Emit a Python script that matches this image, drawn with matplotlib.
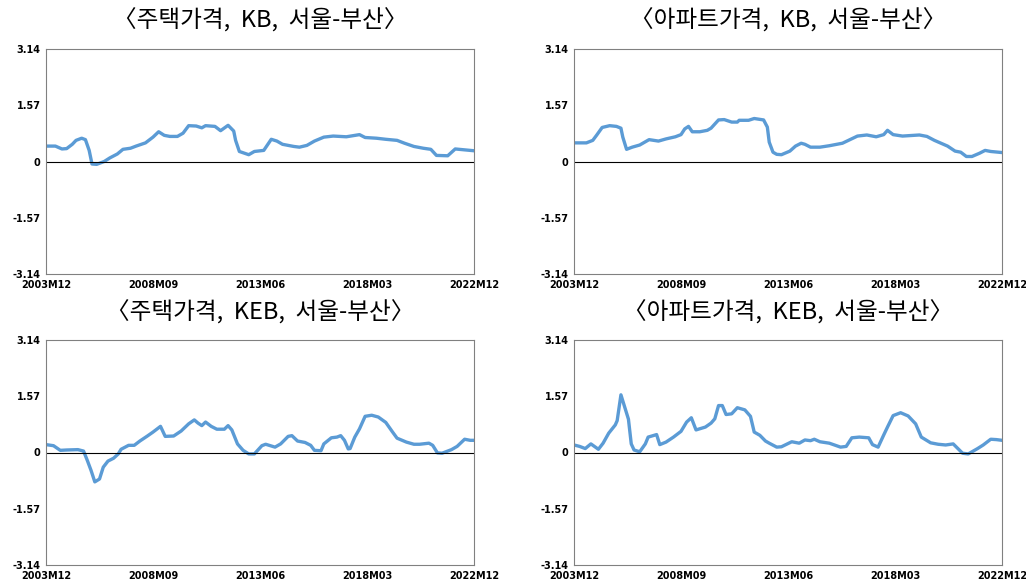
import matplotlib
matplotlib.use("Agg")
import matplotlib.pyplot as plt

plt.rcParams['font.family'] = ['Noto Sans CJK KR', 'DejaVu Sans']

# months since 2003M12 (0 .. 228 = 2022M12)
tick_pos = [0, 57, 114, 171, 228]
tick_labels = ["2003M12", "2008M09", "2013M06", "2018M03", "2022M12"]
ytick_pos = [-3.14, -1.57, 0, 1.57, 3.14]
ytick_labels = ["-3.14", "-1.57", "0", "1.57", "3.14"]

titles = ["〈주택가격,  KB,  서울-부산〉", "〈아파트가격,  KB,  서울-부산〉",
          "〈주택가격,  KEB,  서울-부산〉", "〈아파트가격,  KEB,  서울-부산〉"]

kb_house_m = [0, 5, 8.5, 11, 14, 16, 19, 21, 23, 24.5, 27, 31, 34, 38, 41, 45, 48, 53, 57, 60,
              63, 66, 70, 73, 76, 80, 83, 85, 90, 93, 97, 100, 101, 103, 108, 111, 116, 120, 123, 126,
              132, 135, 139, 143, 148, 153, 160, 167, 170, 176, 181, 187, 191, 196, 201, 205, 208, 214,
              218, 222, 228]
kb_house_v = [0.43, 0.43, 0.35, 0.36, 0.48, 0.59, 0.65, 0.61, 0.31, -0.07, -0.08, 0.0, 0.10, 0.21,
              0.34, 0.37, 0.43, 0.52, 0.68, 0.83, 0.73, 0.70, 0.70, 0.79, 1.00, 0.99, 0.94, 1.00, 0.98,
              0.86, 1.01, 0.85, 0.59, 0.28, 0.19, 0.28, 0.31, 0.62, 0.57, 0.48, 0.42, 0.40, 0.45, 0.57,
              0.68, 0.71, 0.69, 0.75, 0.67, 0.65, 0.62, 0.59, 0.51, 0.42, 0.37, 0.34, 0.17, 0.16, 0.35,
              0.33, 0.30]

kb_apt_m = [0, 6.6, 10, 12, 15, 19, 22.6, 25, 26, 28, 31, 35, 40, 45, 49, 54, 57, 59, 61, 63, 67,
            71, 73, 77, 80, 84, 87, 88, 93, 96, 101, 103, 104, 106, 108, 110.5, 115, 118, 121, 123,
            126, 131, 136, 143, 147, 151, 156, 161, 165, 167, 170, 175, 181, 184, 188, 192, 199, 203,
            206, 209, 212, 216, 219, 222, 228]
kb_apt_v = [0.52, 0.52, 0.59, 0.73, 0.95, 1.00, 0.98, 0.93, 0.68, 0.34, 0.40, 0.46, 0.61, 0.57,
            0.63, 0.69, 0.75, 0.91, 0.98, 0.83, 0.83, 0.87, 0.93, 1.16, 1.17, 1.10, 1.10, 1.15, 1.15,
            1.20, 1.16, 0.96, 0.54, 0.26, 0.20, 0.19, 0.29, 0.43, 0.51, 0.48, 0.40, 0.40, 0.44, 0.51,
            0.61, 0.71, 0.74, 0.69, 0.75, 0.87, 0.75, 0.71, 0.73, 0.74, 0.70, 0.59, 0.43, 0.29, 0.26,
            0.14, 0.14, 0.23, 0.31, 0.28, 0.25]

keb_house_m = [0, 4, 7.6, 11, 17, 20, 22, 24, 26, 28.5, 30.5, 33, 36, 38.5, 40, 44, 47, 50, 54, 57,
               61, 63.5, 68, 72, 76, 79, 81, 83, 85, 88, 91, 95, 97, 99, 102, 105, 108, 111, 115, 117,
               122, 125, 129, 131, 134, 138, 141, 143, 146.5, 148, 152, 155, 157, 159, 161, 162, 164.5,
               167, 170, 173.5, 177, 181, 184.5, 187, 192, 196, 199, 204, 206, 208.5, 211, 216, 219,
               223, 226, 228]
keb_house_v = [0.22, 0.19, 0.06, 0.07, 0.08, 0.04, -0.22, -0.50, -0.82, -0.74, -0.41, -0.24, -0.16,
               -0.04, 0.09, 0.20, 0.20, 0.32, 0.46, 0.57, 0.73, 0.45, 0.46, 0.60, 0.80, 0.91, 0.82,
               0.75, 0.85, 0.73, 0.65, 0.65, 0.75, 0.63, 0.24, 0.06, -0.04, -0.04, 0.19, 0.23, 0.15,
               0.24, 0.45, 0.47, 0.32, 0.28, 0.20, 0.06, 0.05, 0.24, 0.41, 0.43, 0.47, 0.34, 0.10, 0.11,
               0.43, 0.66, 1.01, 1.04, 0.99, 0.84, 0.58, 0.40, 0.29, 0.23, 0.23, 0.26, 0.20, -0.01,
               -0.02, 0.08, 0.17, 0.37, 0.34, 0.34]

keb_apt_m = [0, 3, 6, 9, 13, 15.5, 18.5, 22, 23, 25, 27, 29, 30.5, 32, 35, 38, 39.5, 44, 45.7, 49,
             53, 57, 60, 62.5, 65, 70, 73, 75, 77, 79, 81, 84, 87, 91, 94, 96, 99, 102, 104, 108,
             110.5, 116, 120, 123, 126, 128, 131, 136, 142, 145, 148, 152, 157, 159, 162, 165, 167,
             170, 174, 178, 182, 185, 190, 194, 198, 202, 207, 210, 215, 218, 222, 225, 228]
keb_apt_v = [0.21, 0.17, 0.11, 0.24, 0.09, 0.26, 0.54, 0.77, 0.89, 1.61, 1.27, 0.93, 0.24, 0.07,
             0.02, 0.24, 0.43, 0.50, 0.22, 0.29, 0.43, 0.59, 0.85, 0.97, 0.63, 0.71, 0.82, 0.94, 1.31,
             1.31, 1.06, 1.08, 1.25, 1.19, 1.01, 0.57, 0.48, 0.32, 0.26, 0.15, 0.16, 0.30, 0.26, 0.35,
             0.33, 0.37, 0.30, 0.26, 0.15, 0.17, 0.41, 0.43, 0.41, 0.22, 0.15, 0.49, 0.71, 1.03, 1.11,
             1.02, 0.80, 0.43, 0.27, 0.23, 0.21, 0.24, -0.02, -0.04, 0.11, 0.21, 0.37, 0.36, 0.34]

series = [(kb_house_m, kb_house_v), (kb_apt_m, kb_apt_v),
          (keb_house_m, keb_house_v), (keb_apt_m, keb_apt_v)]

W, H = 1026, 585
fig = plt.figure(figsize=(W / 100, H / 100), dpi=100)

# panel boxes in pixels: left, top, right, bottom
boxes = [(46, 49, 474, 274), (574, 49, 1002, 274),
         (46, 340, 474, 565), (574, 340, 1002, 565)]
title_y = [20, 20, 312, 312]

for i, (m, v) in enumerate(series):
    l, t, r, b = boxes[i]
    ax = fig.add_axes([l / W, 1 - b / H, (r - l) / W, (b - t) / H])
    ax.plot(m, v, color='#5B9BD5', linewidth=2.4, solid_capstyle='round')
    ax.axhline(0, color='black', linewidth=0.8)
    ax.set_xlim(0, 228)
    ax.set_ylim(-3.14, 3.14)
    ax.set_xticks(tick_pos)
    ax.set_xticklabels(tick_labels, family='DejaVu Sans', fontsize=7, fontweight='bold')
    ax.set_yticks(ytick_pos)
    ax.set_yticklabels(ytick_labels, family='DejaVu Sans', fontsize=7, fontweight='bold')
    ax.tick_params(length=0, pad=4)
    for s in ax.spines.values():
        s.set_color('#808080')
        s.set_linewidth(0.8)
    fig.text((l + r) / 2 / W, 1 - title_y[i] / H, titles[i], ha='center', va='center',
             fontsize=17)

fig.savefig("out.png", dpi=100)
